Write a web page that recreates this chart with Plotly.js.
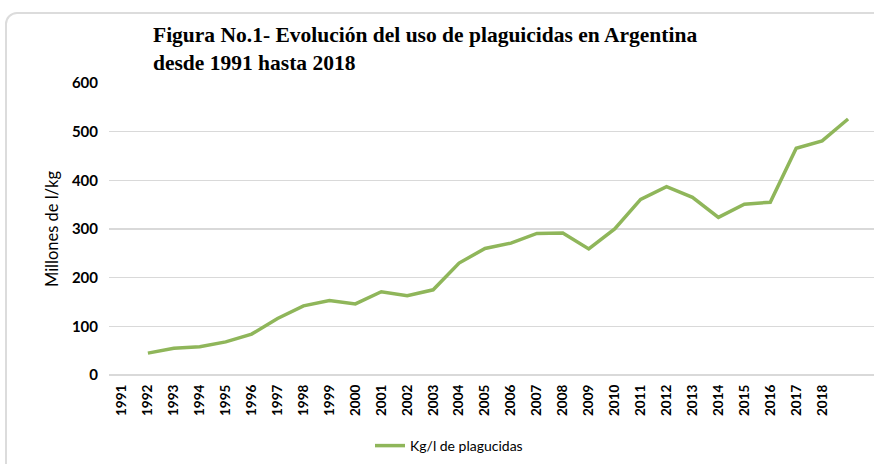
<!DOCTYPE html>
<html>
<head>
<meta charset="utf-8">
<script src="https://cdn.plot.ly/plotly-3.0.1.min.js"></script>
<style>
html,body{margin:0;padding:0;background:#fff;overflow:hidden;width:874px;height:464px;}
#frame{position:absolute;left:5px;top:12px;width:900px;height:520px;border:2px solid #dcdcdc;border-radius:12px;box-sizing:border-box;}
#chart{position:absolute;left:0;top:0;width:874px;height:464px;}
</style>
</head>
<body>
<div id="frame"></div>
<div id="chart"></div>
<script>
// Category positions (the plotted series is offset by one year, as in the original)
const years = [1991,1992,1993,1994,1995,1996,1997,1998,1999,2000,2001,2002,2003,2004,2005,2006,2007,2008,2009,2010,2011,2012,2013,2014,2015,2016,2017,2018,2019];
const tickYears = [1991,1992,1993,1994,1995,1996,1997,1998,1999,2000,2001,2002,2003,2004,2005,2006,2007,2008,2009,2010,2011,2012,2013,2014,2015,2016,2017,2018];
const tickLabels = ["1991","1992","1993","1994","1995","1996","1997","1998","1999","2000","2001","2002","2003","2004","2005","2006","2007","2008","2009","2010","2011","2012","2013","2014","2015","2016","2017","2018"];
const plaguicidas = [null,45,55,58,68,84,116,142,153,146,171,163,175,230,260,271,291,292,259,300,361,387,365,324,351,355,466,481,526];
const seriesName = "Kg/l de plagucidas";

const trace = {
  x: years, y: plaguicidas, type: 'scatter', mode: 'lines', name: seriesName,
  line: {color: '#8FB65A', width: 3.5}, connectgaps: false
};

const layout = {
  width: 874, height: 464,
  paper_bgcolor: 'rgba(0,0,0,0)', plot_bgcolor: 'rgba(0,0,0,0)',
  margin: {l: 109, r: 0, t: 83, b: 89},
  title: {
    text: '<b>Figura No.1- Evolución del uso de plaguicidas en Argentina<br>desde 1991 hasta 2018</b>',
    font: {family: 'Liberation Serif, Times New Roman, serif', size: 21.5, color: '#000', lineposition: 'none'},
    xref: 'container', x: 153/874, xanchor: 'left',
    yref: 'container', y: 1 - 42/464, yanchor: 'middle'
  },
  xaxis: {
    range: [1990.5, 2020], tickmode: 'array', tickvals: tickYears, ticktext: tickLabels,
    tickangle: -90, showgrid: false, showline: false, zeroline: false, ticks: '',
    ticklabelstandoff: 6,
    tickfont: {family: 'Lato, Open Sans, sans-serif', size: 13.5, color: '#000', weight: 'bold'}
  },
  yaxis: {
    range: [0, 600], dtick: 100, tick0: 0, showgrid: true, gridcolor: '#d9d9d9', gridwidth: 1.5,
    zeroline: true, zerolinecolor: '#d9d9d9', zerolinewidth: 1.5, showline: false, ticks: '',
    ticklabelstandoff: 10,
    tickfont: {family: 'Lato, Open Sans, sans-serif', size: 15, color: '#000', weight: 'bold'},
    title: {text: 'Millones de l/kg', standoff: 9,
      font: {family: 'Lato, Open Sans, sans-serif', size: 16.5, color: '#000'}}
  },
  showlegend: true,
  legend: {
    orientation: 'h', xref: 'container', yref: 'container',
    x: 370/874, xanchor: 'left', y: 1 - 446/464, yanchor: 'middle',
    font: {family: 'Lato, Open Sans, sans-serif', size: 14, color: '#000'},
    bgcolor: 'rgba(0,0,0,0)', itemwidth: 30
  }
};

Plotly.newPlot('chart', [trace], layout, {displayModeBar: false, staticPlot: true});
</script>
</body>
</html>
